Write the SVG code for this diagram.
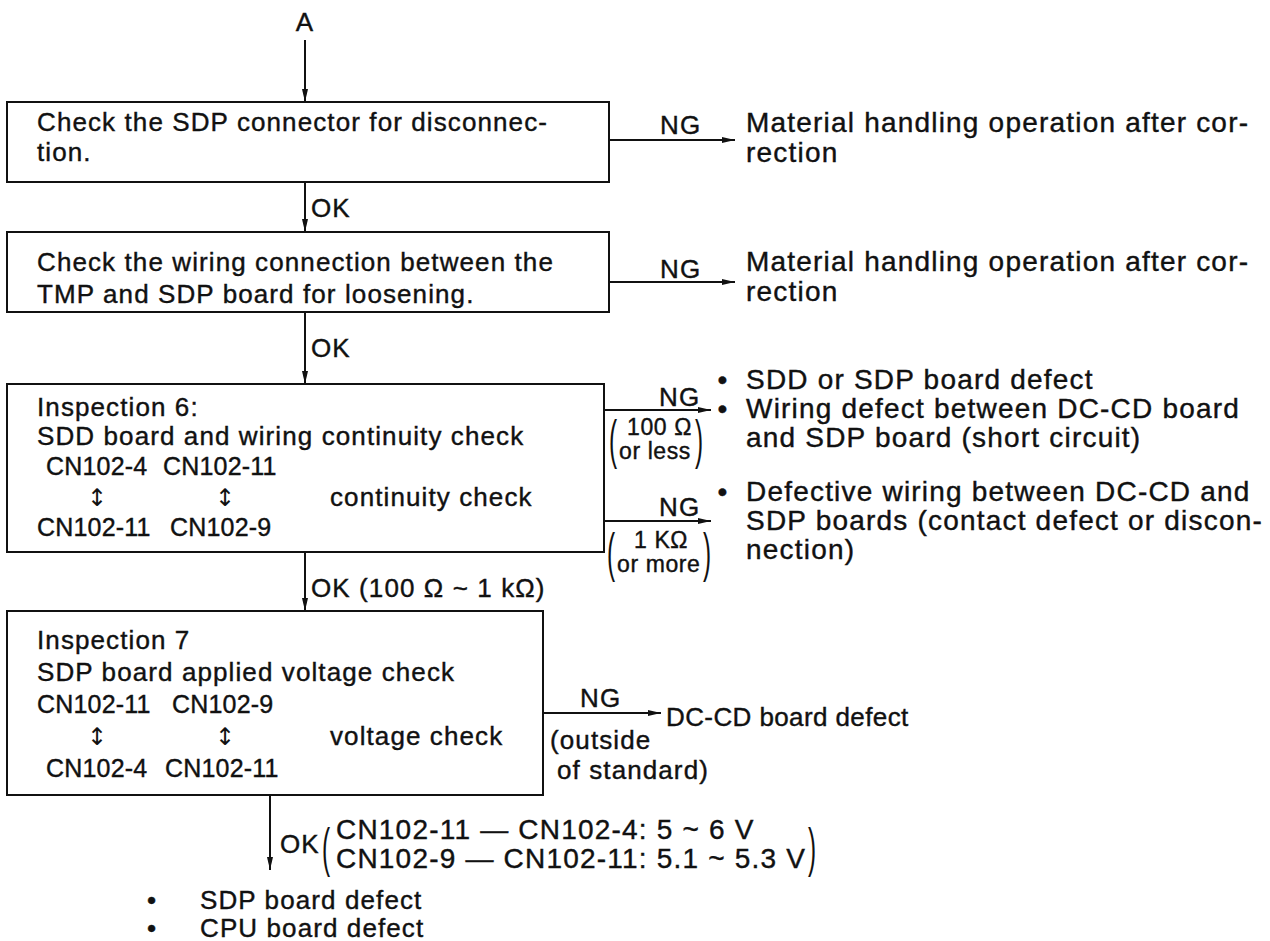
<svg xmlns="http://www.w3.org/2000/svg" width="1270" height="941" viewBox="0 0 1270 941">
  <style>
    .t { font-family: "Liberation Sans", Arial, sans-serif; font-size: 26px; letter-spacing: 1.1px; fill: #111; stroke: #111; stroke-width: 0.4; }
    .r { font-size: 28px; letter-spacing: 1.2px; }
    .s { font-size: 23px; letter-spacing: 0.6px; }
    .cn { font-size: 25px; letter-spacing: 0.2px; }
    .par { font-family: "Liberation Sans", Arial, sans-serif; font-size: 54px; fill: #111; }
    .arw { font-family: "DejaVu Sans", sans-serif; font-size: 24px; fill: #111; }
    .box { fill: #fff; stroke: #111; stroke-width: 2; }
    .ln { stroke: #111; stroke-width: 2; fill: none; }
  </style>
  <defs>
    <marker id="ah" markerUnits="userSpaceOnUse" markerWidth="14" markerHeight="8" refX="13" refY="4" orient="auto">
      <path d="M0,1 L13,4 L0,7 z" fill="#111"/>
    </marker>
  </defs>
  <rect width="1270" height="941" fill="#fff"/>

  <!-- flow connectors -->
  <g id="connectors">
    <line class="ln" x1="305" y1="40" x2="305" y2="102" marker-end="url(#ah)"/>
    <line class="ln" x1="305" y1="182" x2="305" y2="232" marker-end="url(#ah)"/>
    <line class="ln" x1="305" y1="312" x2="305" y2="384" marker-end="url(#ah)"/>
    <line class="ln" x1="305" y1="552" x2="305" y2="611" marker-end="url(#ah)"/>
    <line class="ln" x1="270" y1="795" x2="270" y2="870" marker-end="url(#ah)"/>
    <line class="ln" x1="609" y1="140" x2="735" y2="140" marker-end="url(#ah)"/>
    <line class="ln" x1="609" y1="282" x2="735" y2="282" marker-end="url(#ah)"/>
    <line class="ln" x1="604" y1="410" x2="711" y2="410" marker-end="url(#ah)"/>
    <line class="ln" x1="604" y1="521" x2="711" y2="521" marker-end="url(#ah)"/>
    <line class="ln" x1="543" y1="713" x2="661" y2="713" marker-end="url(#ah)"/>
  </g>

  <!-- connector labels -->
  <g id="labels">
    <text class="t" x="305" y="31" text-anchor="middle">A</text>
    <text class="t" x="311" y="217">OK</text>
    <text class="t" x="311" y="357">OK</text>
    <text class="t" x="311" y="597">OK (100 Ω ~ 1 kΩ)</text>
    <text class="t" x="660" y="134">NG</text>
    <text class="t" x="660" y="278">NG</text>
    <text class="t" x="659" y="406">NG</text>
    <text class="t s" x="627" y="435">100 Ω</text>
    <text class="t s" x="619" y="459">or less</text>
    <text class="par" transform="translate(609,458) scale(0.45,1)">(</text>
    <text class="par" transform="translate(695,458) scale(0.45,1)">)</text>
    <text class="t" x="659" y="516">NG</text>
    <text class="t s" x="634" y="548">1 KΩ</text>
    <text class="t s" x="617" y="572">or more</text>
    <text class="par" transform="translate(607,571) scale(0.45,1)">(</text>
    <text class="par" transform="translate(703,571) scale(0.45,1)">)</text>
    <text class="t" x="580" y="707">NG</text>
    <text class="t" x="550" y="749">(outside</text>
    <text class="t" x="557" y="779">of standard)</text>
    <text class="t" x="280" y="853">OK</text>
    <text class="par" transform="translate(322,866) scale(0.45,1)">(</text>
    <text class="t r" x="336" y="839">CN102-11 — CN102-4: 5 ~ 6 V</text>
    <text class="t r" x="336" y="868">CN102-9 — CN102-11: 5.1 ~ 5.3 V</text>
    <text class="par" transform="translate(808,866) scale(0.45,1)">)</text>
  </g>

  <g id="step-connector">
    <rect class="box" x="7" y="102" width="602" height="80"/>
    <text class="t" x="37" y="131">Check the SDP connector for disconnec-</text>
    <text class="t" x="37" y="161">tion.</text>
  </g>

  <g id="step-wiring">
    <rect class="box" x="7" y="232" width="602" height="80"/>
    <text class="t" x="37" y="271">Check the wiring connection between the</text>
    <text class="t" x="37" y="303">TMP and SDP board for loosening.</text>
  </g>

  <g id="inspection-6">
    <rect class="box" x="7" y="384" width="597" height="168"/>
    <text class="t" x="37" y="416">Inspection 6:</text>
    <text class="t" x="37" y="445">SDD board and wiring continuity check</text>
    <text class="t cn" x="46" y="475">CN102-4</text>
    <text class="t cn" x="163" y="475">CN102-11</text>
    <text class="arw" x="97" y="506" text-anchor="middle">↕</text>
    <text class="arw" x="225" y="506" text-anchor="middle">↕</text>
    <text class="t" x="330" y="506">continuity check</text>
    <text class="t cn" x="37" y="536">CN102-11</text>
    <text class="t cn" x="170" y="536">CN102-9</text>
  </g>

  <g id="inspection-7">
    <rect class="box" x="7" y="611" width="536" height="184"/>
    <text class="t" x="37" y="649">Inspection 7</text>
    <text class="t" x="37" y="681">SDP board applied voltage check</text>
    <text class="t cn" x="37" y="713">CN102-11</text>
    <text class="t cn" x="172" y="713">CN102-9</text>
    <text class="arw" x="97" y="745" text-anchor="middle">↕</text>
    <text class="arw" x="225" y="745" text-anchor="middle">↕</text>
    <text class="t" x="330" y="745">voltage check</text>
    <text class="t cn" x="46" y="777">CN102-4</text>
    <text class="t cn" x="165" y="777">CN102-11</text>
  </g>

  <g id="result-1">
    <text class="t r" x="746" y="132">Material handling operation after cor-</text>
    <text class="t r" x="746" y="162">rection</text>
  </g>

  <g id="result-2">
    <text class="t r" x="746" y="271">Material handling operation after cor-</text>
    <text class="t r" x="746" y="301">rection</text>
  </g>

  <g id="result-3a">
    <text class="t r" x="723" y="389" text-anchor="middle">•</text>
    <text class="t r" x="746" y="389">SDD or SDP board defect</text>
    <text class="t r" x="723" y="418" text-anchor="middle">•</text>
    <text class="t r" x="746" y="418">Wiring defect between DC-CD board</text>
    <text class="t r" x="746" y="447">and SDP board (short circuit)</text>
  </g>

  <g id="result-3b">
    <text class="t r" x="723" y="501" text-anchor="middle">•</text>
    <text class="t r" x="746" y="501">Defective wiring between DC-CD and</text>
    <text class="t r" x="746" y="530">SDP boards (contact defect or discon-</text>
    <text class="t r" x="746" y="559">nection)</text>
  </g>

  <g id="result-4">
    <text class="t" x="666" y="726" style="letter-spacing:0.4px">DC-CD board defect</text>
  </g>

  <g id="result-5">
    <text class="t" x="152" y="909" text-anchor="middle">•</text>
    <text class="t" x="200" y="909">SDP board defect</text>
    <text class="t" x="152" y="937" text-anchor="middle">•</text>
    <text class="t" x="200" y="937">CPU board defect</text>
  </g>
</svg>
